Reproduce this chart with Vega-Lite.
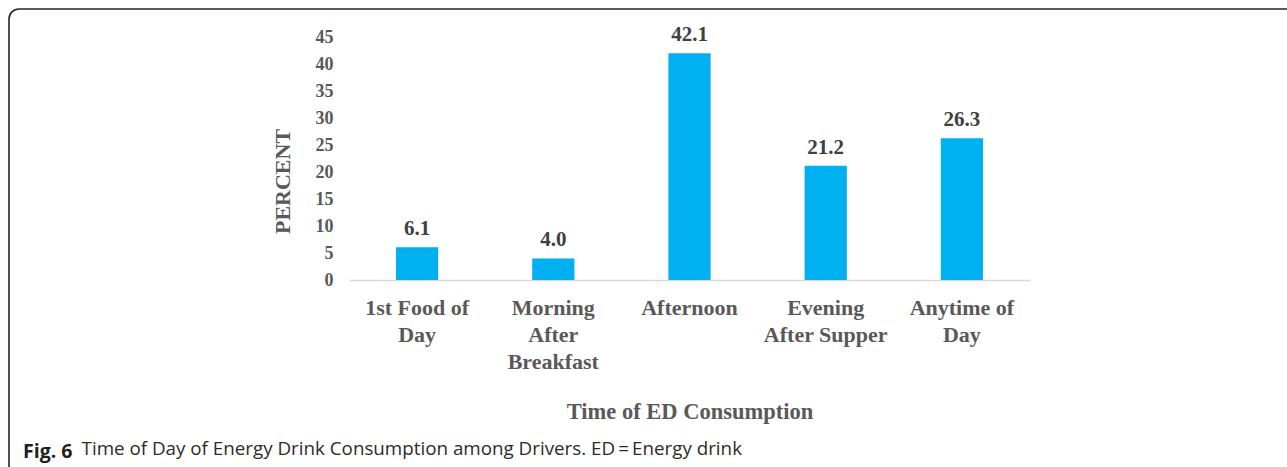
{
  "$schema": "https://vega.github.io/schema/vega-lite/v6.json",
  "autosize": {"type": "none"},
  "padding": {"left": 9, "top": 9, "right": 0, "bottom": 0},
  "width": 1320,
  "height": 480,
  "background": "white",
  "config": {
    "view": {"stroke": "#262626", "strokeWidth": 1.6, "cornerRadius": 10},
    "font": "Liberation Serif"
  },
  "title": {
    "text": "Fig. 6",
    "subtitle": "\u200b\u00a0\u00a0\u00a0\u00a0\u00a0\u00a0\u00a0\u00a0\u00a0\u00a0\u00a0\u00a0Time of Day of Energy Drink Consumption among Drivers. ED\u2009=\u2009Energy drink",
    "orient": "bottom",
    "anchor": "start",
    "frame": "group",
    "offset": -46,
    "dx": 14,
    "font": "Open Sans",
    "fontSize": 19.5,
    "fontWeight": "bold",
    "color": "#231f20",
    "subtitleFont": "Open Sans",
    "subtitleFontSize": 18.8,
    "subtitleFontWeight": "normal",
    "subtitleColor": "#2b2b2b",
    "subtitlePadding": -23
  },
  "data": {
    "values": [
      {"time": "1st Food of Day", "pct": 6.1},
      {"time": "Morning After Breakfast", "pct": 4.0},
      {"time": "Afternoon", "pct": 42.1},
      {"time": "Evening After Supper", "pct": 21.2},
      {"time": "Anytime of Day", "pct": 26.3}
    ]
  },
  "encoding": {
    "x": {
      "field": "time",
      "type": "nominal",
      "sort": null,
      "scale": {"range": [340, 1021], "paddingInner": 0.69, "paddingOuter": 0.345},
      "axis": {
        "title": "Time of ED Consumption",
        "offset": -209,
        "labelAngle": 0,
        "labelExpr": "datum.value == '1st Food of Day' ? ['1st Food of', 'Day'] : datum.value == 'Morning After Breakfast' ? ['Morning', 'After', 'Breakfast'] : datum.value == 'Evening After Supper' ? ['Evening', 'After Supper'] : datum.value == 'Anytime of Day' ? ['Anytime of', 'Day'] : datum.value",
        "labelFont": "Liberation Serif",
        "labelFontWeight": "bold",
        "labelFontSize": 22,
        "labelLineHeight": 27,
        "labelColor": "#595959",
        "labelPadding": 17,
        "labelLimit": 300,
        "ticks": false,
        "domainColor": "#d9d9d9",
        "domainWidth": 1.5,
        "titleFont": "Liberation Serif",
        "titleFontWeight": "bold",
        "titleFontSize": 22.5,
        "titleColor": "#595959",
        "titleY": 131,
        "titleBaseline": "middle"
      }
    },
    "y": {
      "field": "pct",
      "type": "quantitative",
      "scale": {"domain": [0, 45], "range": [271, 28.5], "nice": false, "zero": true},
      "axis": {
        "title": "PERCENT",
        "values": [0, 5, 10, 15, 20, 25, 30, 35, 40, 45],
        "offset": -330,
        "domain": false,
        "ticks": false,
        "grid": false,
        "labelPadding": 6,
        "labelFont": "Liberation Serif",
        "labelFontWeight": "bold",
        "labelFontSize": 18,
        "labelColor": "#595959",
        "titleFont": "Liberation Serif",
        "titleFontWeight": "bold",
        "titleFontSize": 22,
        "titleColor": "#595959",
        "titleX": -57,
        "titleY": 172,
        "titleBaseline": "middle"
      }
    }
  },
  "layer": [
    {"mark": {"type": "bar", "color": "#00B0F0"}},
    {
      "mark": {"type": "text", "baseline": "alphabetic", "dy": -12, "font": "Liberation Serif", "fontWeight": "bold", "fontSize": 21, "color": "#404040"},
      "encoding": {"text": {"field": "pct", "type": "quantitative", "format": ".1f"}}
    }
  ]
}
